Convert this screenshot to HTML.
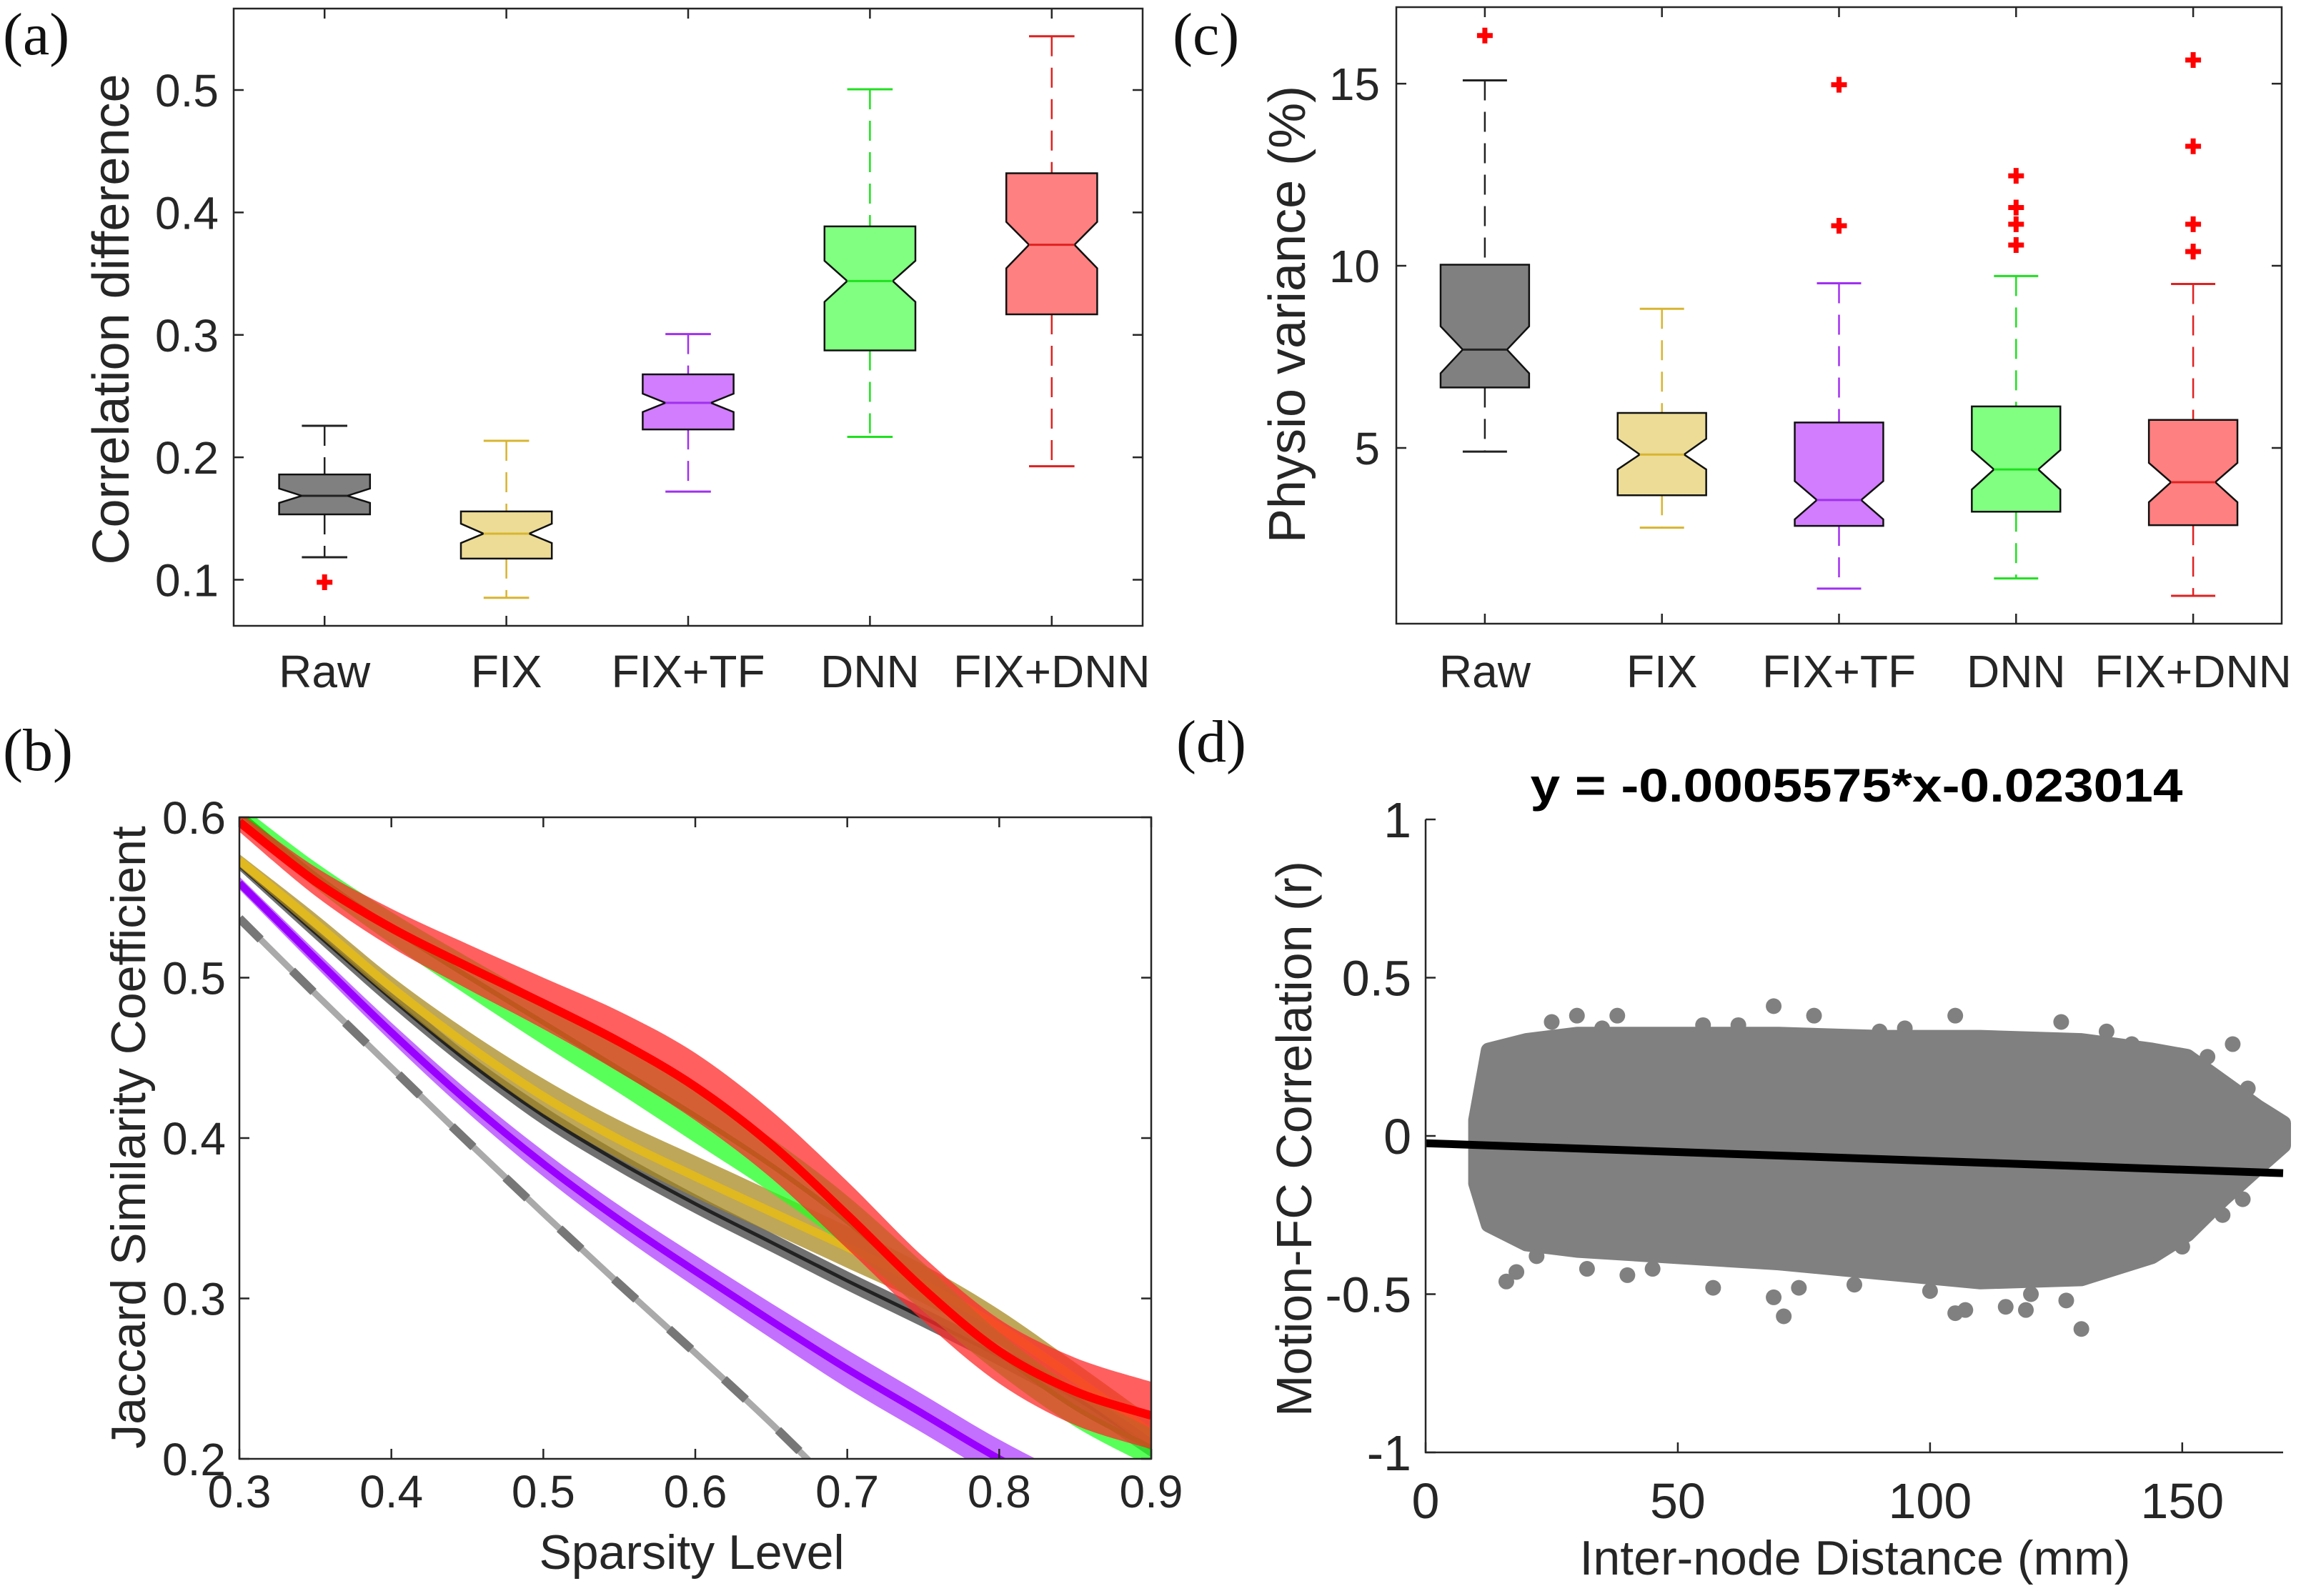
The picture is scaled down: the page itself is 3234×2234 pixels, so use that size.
<!DOCTYPE html>
<html><head><meta charset="utf-8"><style>
html,body{margin:0;padding:0;background:#fff;overflow:hidden;width:3234px;height:2234px;}
svg{display:block;position:absolute;left:0;top:0;font-family:"Liberation Sans",Arial,sans-serif;}
</style></head><body>
<svg id="fig" width="3234" height="2234" viewBox="0 0 3234 2234" xmlns="http://www.w3.org/2000/svg">
<rect x="0" y="0" width="3234" height="2234" fill="#fff"/>
</svg>
<script>
// ---------- DATA ----------
const catsAC = ["Raw","FIX","FIX+TF","DNN","FIX+DNN"];
const boxFill = ["#808080","#ecdc96","#d17dfd","#80ff80","#ff8080"];
const boxLine = ["#222222","#d8b530","#a030f0","#20e020","#e02020"];
// panel a
const aWhiskHi = [0.2258,0.2135,0.3007,0.5006,0.5439];
const aQ3      = [0.186,0.1558,0.2678,0.3886,0.432];
const aNotchHi = [0.1745,0.1458,0.252,0.3605,0.3923];
const aMedian  = [0.1686,0.1377,0.2445,0.344,0.3736];
const aNotchLo = [0.1628,0.130,0.237,0.327,0.3544];
const aQ1      = [0.1534,0.1173,0.2228,0.2873,0.3168];
const aWhiskLo = [0.1184,0.0853,0.172,0.2167,0.1927];
const aOutliers = [[0.098],[],[],[],[]];
const aTicks = [0.1,0.2,0.3,0.4,0.5];
// panel c
const cWhiskHi = [15.09,8.82,9.52,9.72,9.5];
const cQ3      = [10.03,5.96,5.70,6.14,5.77];
const cNotchHi = [8.34,5.25,4.09,4.94,4.59];
const cMedian  = [7.70,4.82,3.57,4.41,4.06];
const cNotchLo = [7.05,4.41,3.04,3.86,3.51];
const cQ1      = [6.66,3.70,2.86,3.25,2.88];
const cWhiskLo = [4.90,2.81,1.14,1.42,0.94];
const cOutliers = [[16.32],[],[14.97,11.1],[12.47,11.6,11.14,10.57],[15.65,13.28,11.14,10.39]];
const cTicks = [5,10,15];
// panel b
const bX = [0.3,0.35,0.4,0.45,0.5,0.55,0.6,0.65,0.7,0.75,0.8,0.85,0.9];
const bGray   = [0.537,0.490,0.444,0.398,0.353,0.309,0.266,0.222,0.175,0.127,0.078,0.03,-0.02];
const bPurple = [0.559,0.512,0.466,0.423,0.384,0.349,0.317,0.286,0.256,0.228,0.200,0.176,0.155];
const bPurpleHw=[0.004,0.005,0.006,0.007,0.008,0.009,0.010,0.011,0.012,0.012,0.012,0.012,0.012];
const bRaw    = [0.57,0.528,0.487,0.448,0.414,0.385,0.359,0.335,0.311,0.288,0.264,0.238,0.207];
const bRawHw  = [0.003,0.004,0.005,0.005,0.006,0.006,0.006,0.006,0.006,0.006,0.006,0.006,0.006];
const bGold   = [0.573,0.534,0.494,0.458,0.426,0.399,0.376,0.354,0.332,0.309,0.282,0.250,0.216];
const bGoldHw = [0.004,0.006,0.007,0.009,0.011,0.012,0.013,0.013,0.013,0.012,0.011,0.01,0.01];
const bGreen  = [0.603,0.564,0.531,0.501,0.472,0.443,0.414,0.383,0.348,0.307,0.266,0.232,0.207];
const bGreenHw= [0.005,0.008,0.010,0.012,0.014,0.015,0.017,0.017,0.016,0.015,0.013,0.012,0.012];
const bRed    = [0.597,0.560,0.531,0.507,0.484,0.460,0.432,0.396,0.352,0.306,0.267,0.242,0.227];
const bRedHw  = [0.006,0.009,0.012,0.014,0.016,0.019,0.021,0.021,0.021,0.020,0.020,0.021,0.021];
const bXTicks = [0.3,0.4,0.5,0.6,0.7,0.8,0.9];
const bYTicks = [0.2,0.3,0.4,0.5,0.6];
// panel d
const dEnvX  = [10,12.5,20,30,50,70,90,110,130,144,151,158,165,170];
const dUpper = [0.05,0.27,0.30,0.32,0.32,0.32,0.31,0.31,0.30,0.27,0.25,0.17,0.09,0.04];
const dLower = [-0.15,-0.28,-0.34,-0.36,-0.38,-0.40,-0.43,-0.46,-0.45,-0.38,-0.31,-0.20,-0.1,-0.03];
const dPtsX = [16,18,32,40,57,69,71,74,105,107,115,119,130,127,69,77,30,38,105,126,55,160,163,167,162,158,14,25,90,140,22,45,85,100,120,150,12,35,62,95,135,155];
const dPtsY = [-0.46,-0.43,-0.42,-0.44,-0.48,-0.51,-0.57,-0.48,-0.56,-0.55,-0.54,-0.55,-0.61,-0.52,0.41,0.38,0.38,0.38,0.38,0.36,0.35,0.29,0.15,0.05,-0.2,-0.25,0.27,0.36,0.33,0.29,-0.38,-0.42,-0.47,-0.49,-0.5,-0.35,-0.2,0.34,0.35,0.34,0.33,0.25];
const dSlope = -0.0005575;
const dIntercept = -0.023014;
const dXTicks = [0,50,100,150];
const dYTicks = [-1,-0.5,0,0.5,1];
const dYLabels = ["-1","-0.5","0","0.5","1"];

// ---------- HELPERS ----------
const svg = document.getElementById('fig');
const NS = "http://www.w3.org/2000/svg";
function mk(tag, attrs, parent){
  const e = document.createElementNS(NS, tag);
  for (const k in attrs) e.setAttribute(k, attrs[k]);
  (parent||svg).appendChild(e);
  return e;
}
function txt(s, attrs, parent){
  const e = mk('text', attrs, parent);
  e.textContent = s;
  return e;
}
const AX = "#262626";

// ---------- BOX PANELS ----------
function boxPanel(cfg){
  const {L,R,T,B,ymin,ymax,prefix} = cfg;
  const g = mk('g', {});
  
  
  const sx = i => L + (i+0.5)*(R-L)/5;
  const sy = v => B - (v-ymin)/(ymax-ymin)*(B-T);
  const bw = (R-L)/5*0.5;
  const fr = mk('rect',{x:L,y:T,width:R-L,height:B-T,fill:'none',stroke:AX,'stroke-width':2.5},g);
  
  
  cfg.ticks.forEach((t,k)=>{
    const y = sy(t);
    const tk = mk('path',{d:`M${L},${y}h14M${R},${y}h-14`,stroke:AX,'stroke-width':2.5},g);
    
    
    const tl = txt(cfg.tickLabels[k],{x:cfg.tickRight,y:y+23,'text-anchor':'end','font-size':64,fill:AX},g);
    
    
  });
  catsAC.forEach((c,i)=>{
    const x = sx(i);
    const tk = mk('path',{d:`M${x},${B}v-14M${x},${T}v14`,stroke:AX,'stroke-width':2.5},g);
    
    
    const tl = txt(c,{x:x,y:962,'text-anchor':'middle','font-size':64,fill:AX},g);
    
    
    const d = cfg.data;
    const col = boxLine[i];
    const wh = mk('path',{d:`M${x},${sy(d.wh[i])}V${sy(d.q3[i])}M${x},${sy(d.q1[i])}V${sy(d.wl[i])}`,stroke:col,'stroke-width':2.5,'stroke-dasharray':'28 16',fill:'none'},g);
    
    
    const cap = mk('path',{d:`M${x-bw/4},${sy(d.wh[i])}h${bw/2}M${x-bw/4},${sy(d.wl[i])}h${bw/2}`,stroke:col,'stroke-width':3},g);
    
    
    const h=bw/2, q=bw/4;
    const pts = [[x-h,sy(d.q3[i])],[x+h,sy(d.q3[i])],[x+h,sy(d.nh[i])],[x+q,sy(d.md[i])],[x+h,sy(d.nl[i])],[x+h,sy(d.q1[i])],[x-h,sy(d.q1[i])],[x-h,sy(d.nl[i])],[x-q,sy(d.md[i])],[x-h,sy(d.nh[i])]];
    const bx = mk('polygon',{points:pts.map(p=>p.join(',')).join(' '),fill:boxFill[i],stroke:'#111','stroke-width':2.5},g);
    
    
    const md = mk('line',{x1:x-q,x2:x+q,y1:sy(d.md[i]),y2:sy(d.md[i]),stroke:col,'stroke-width':3},g);
    
    
    d.out[i].forEach(v=>{
      const y = sy(v);
      const o = mk('path',{d:`M${x-11},${y}h22M${x},${y-11}v22`,stroke:'#ff0000','stroke-width':7},g);
      
      
    });
  });
  const yl = txt(cfg.ylabel,{x:0,y:0,'text-anchor':'middle','font-size':72,fill:AX,transform:`translate(${cfg.ylabX},${cfg.ylabY}) rotate(-90)`},g);
  
  
}
boxPanel({prefix:'a',L:327,R:1599,T:12,B:876,ymin:0.0624,ymax:0.5665,ticks:aTicks,tickLabels:aTicks.map(String),tickRight:306,
  ylabel:'Correlation difference',ylabX:180,ylabY:447,
  data:{wh:aWhiskHi,q3:aQ3,nh:aNotchHi,md:aMedian,nl:aNotchLo,q1:aQ1,wl:aWhiskLo,out:aOutliers}});
boxPanel({prefix:'c',L:1954,R:3193,T:10,B:873,ymin:0.176,ymax:17.1,ticks:cTicks,tickLabels:cTicks.map(String),tickRight:1931,
  ylabel:'Physio variance (%)',ylabX:1826,ylabY:440,
  data:{wh:cWhiskHi,q3:cQ3,nh:cNotchHi,md:cMedian,nl:cNotchLo,q1:cQ1,wl:cWhiskLo,out:cOutliers}});

// ---------- PANEL B ----------
(function(){
  const L=335,R=1611,T=1144,B=2042;
  const sx = v => L + (v-0.3)/0.6*(R-L);
  const sy = v => B - (v-0.2)/0.4*(B-T);
  const g = mk('g',{});
  
  
  const defs = mk('defs',{},g);
  const cp = mk('clipPath',{id:'clipB'},defs);
  mk('rect',{x:L,y:T,width:R-L,height:B-T},cp);
  const plot = mk('g',{'clip-path':'url(#clipB)'},g);
  function smooth(pts){
    let d = `M${pts[0][0]},${pts[0][1]}`;
    for(let i=0;i<pts.length-1;i++){
      const p0=pts[Math.max(0,i-1)],p1=pts[i],p2=pts[i+1],p3=pts[Math.min(pts.length-1,i+2)];
      const c1=[p1[0]+(p2[0]-p0[0])/6,p1[1]+(p2[1]-p0[1])/6];
      const c2=[p2[0]-(p3[0]-p1[0])/6,p2[1]-(p3[1]-p1[1])/6];
      d+=`C${c1[0]},${c1[1]} ${c2[0]},${c2[1]} ${p2[0]},${p2[1]}`;
    }
    return d;
  }
  function series(name, m, hw, band, line, lw){
    if(hw){
      const up = bX.map((x,i)=>[sx(x),sy(m[i]+hw[i])]);
      const lo = bX.map((x,i)=>[sx(x),sy(m[i]-hw[i])]).reverse();
      const d = smooth(up) + smooth(lo).replace(/^M/,'L') + 'Z';
      const bp = mk('path',{d:d,fill:band,'fill-opacity':0.75,stroke:'none'},plot);
      
      
    }
    const lp = mk('path',{d:smooth(bX.map((x,i)=>[sx(x),sy(m[i])])),fill:'none',stroke:line,'stroke-width':lw},plot);
    
    
    return lp;
  }
  series('null-light', bGray, null, null, '#aaaaaa', 9);
  const gd = series('null', bGray, null, null, '#777777', 12);
  gd.setAttribute('stroke-dasharray','42 62');
  series('fix-tf', bPurple, bPurpleHw, '#b040ff', '#9900ff', 10);
  series('raw', bRaw, bRawHw, '#404040', '#222222', 5);
  series('fix', bGold, bGoldHw, '#a88a20', '#e0b820', 12);
  series('dnn', bGreen, bGreenHw, '#22ff22', '#00e000', 7);
  series('fix-dnn', bRed, bRedHw, '#ff2a2a', '#ff0000', 12);
  const fr = mk('rect',{x:L,y:T,width:R-L,height:B-T,fill:'none',stroke:AX,'stroke-width':2.5},g);
  
  
  bXTicks.forEach(t=>{
    const x=sx(t);
    const tk=mk('path',{d:`M${x},${B}v-14M${x},${T}v14`,stroke:AX,'stroke-width':2.5},g);
    
    
    const tl=txt(String(t),{x:x,y:2110,'text-anchor':'middle','font-size':64,fill:AX},g);
    
    
  });
  bYTicks.forEach(t=>{
    const y=sy(t);
    const tk=mk('path',{d:`M${L},${y}h14M${R},${y}h-14`,stroke:AX,'stroke-width':2.5},g);
    
    
    const tl=txt(String(t),{x:316,y:y+23,'text-anchor':'end','font-size':64,fill:AX},g);
    
    
  });
  const xl=txt('Sparsity Level',{x:968,y:2196,'text-anchor':'middle','font-size':68,fill:AX},g);
  
  
  const yl=txt('Jaccard Similarity Coefficient',{x:0,y:0,'text-anchor':'middle','font-size':68,fill:AX,transform:'translate(203,1592) rotate(-90)'},g);
  
  
})();

// ---------- PANEL D ----------
(function(){
  const L=1995,R=3195,T=1147,B=2033;
  const sx = v => L + v/170*(R-L);
  const sy = v => B - (v+1)/2*(B-T);
  const g = mk('g',{});
  
  
  let d='M';
  dEnvX.forEach((x,i)=>{ d += `${sx(x)},${sy(dUpper[i])} L`; });
  for(let i=dEnvX.length-1;i>=0;i--){ d += `${sx(dEnvX[i])},${sy(dLower[i])} ${i>0?'L':''}`; }
  d += 'Z';
  const cloud = mk('path',{d:d,fill:'#808080',stroke:'#808080','stroke-width':22,'stroke-linejoin':'round'},g);
  
  
  dPtsX.forEach((x,i)=>{
    const c = mk('circle',{cx:sx(x),cy:sy(dPtsY[i]),r:11,fill:'#808080'},g);
    
    
  });
  const fl = mk('line',{x1:sx(0),y1:sy(dIntercept),x2:sx(170),y2:sy(dSlope*170+dIntercept),stroke:'#000','stroke-width':11},g);
  
  
  const ax = mk('path',{d:`M${L},${T}V${B}H${R}`,fill:'none',stroke:AX,'stroke-width':2.5},g);
  
  
  dXTicks.forEach(t=>{
    const x=sx(t);
    const tk=mk('path',{d:`M${x},${B}v-14`,stroke:AX,'stroke-width':2.5},g);
    
    
    const tl=txt(String(t),{x:x,y:2125,'text-anchor':'middle','font-size':70,fill:AX},g);
    
    
  });
  dYTicks.forEach((t,k)=>{
    const y=sy(t);
    const tk=mk('path',{d:`M${L},${y}h14`,stroke:AX,'stroke-width':2.5},g);
    
    
    const tl=txt(dYLabels[k],{x:1975,y:y+25,'text-anchor':'end','font-size':70,fill:AX},g);
    
    
  });
  const ti=txt('y = -0.0005575*x-0.023014',{x:2598,y:1122,'text-anchor':'middle','font-size':66,'font-weight':'bold',fill:'#000',textLength:913,lengthAdjust:'spacingAndGlyphs'},g);
  
  
  const xl=txt('Inter-node Distance (mm)',{x:2596,y:2204,'text-anchor':'middle','font-size':68,fill:AX},g);
  
  
  const yl=txt('Motion-FC Correlation (r)',{x:0,y:0,'text-anchor':'middle','font-size':70,fill:AX,transform:'translate(1835,1594) rotate(-90)'},g);
  
  
})();

// ---------- PANEL LETTERS ----------
[["(a)",4,76],["(b)",4,1078],["(c)",1641,76],["(d)",1646,1066]].forEach(p=>{
  const t = txt(p[0],{x:p[1],y:p[2],'font-size':84,'font-family':'"Liberation Serif",serif',fill:'#111'});
  
  
});
</script>
</body></html>
